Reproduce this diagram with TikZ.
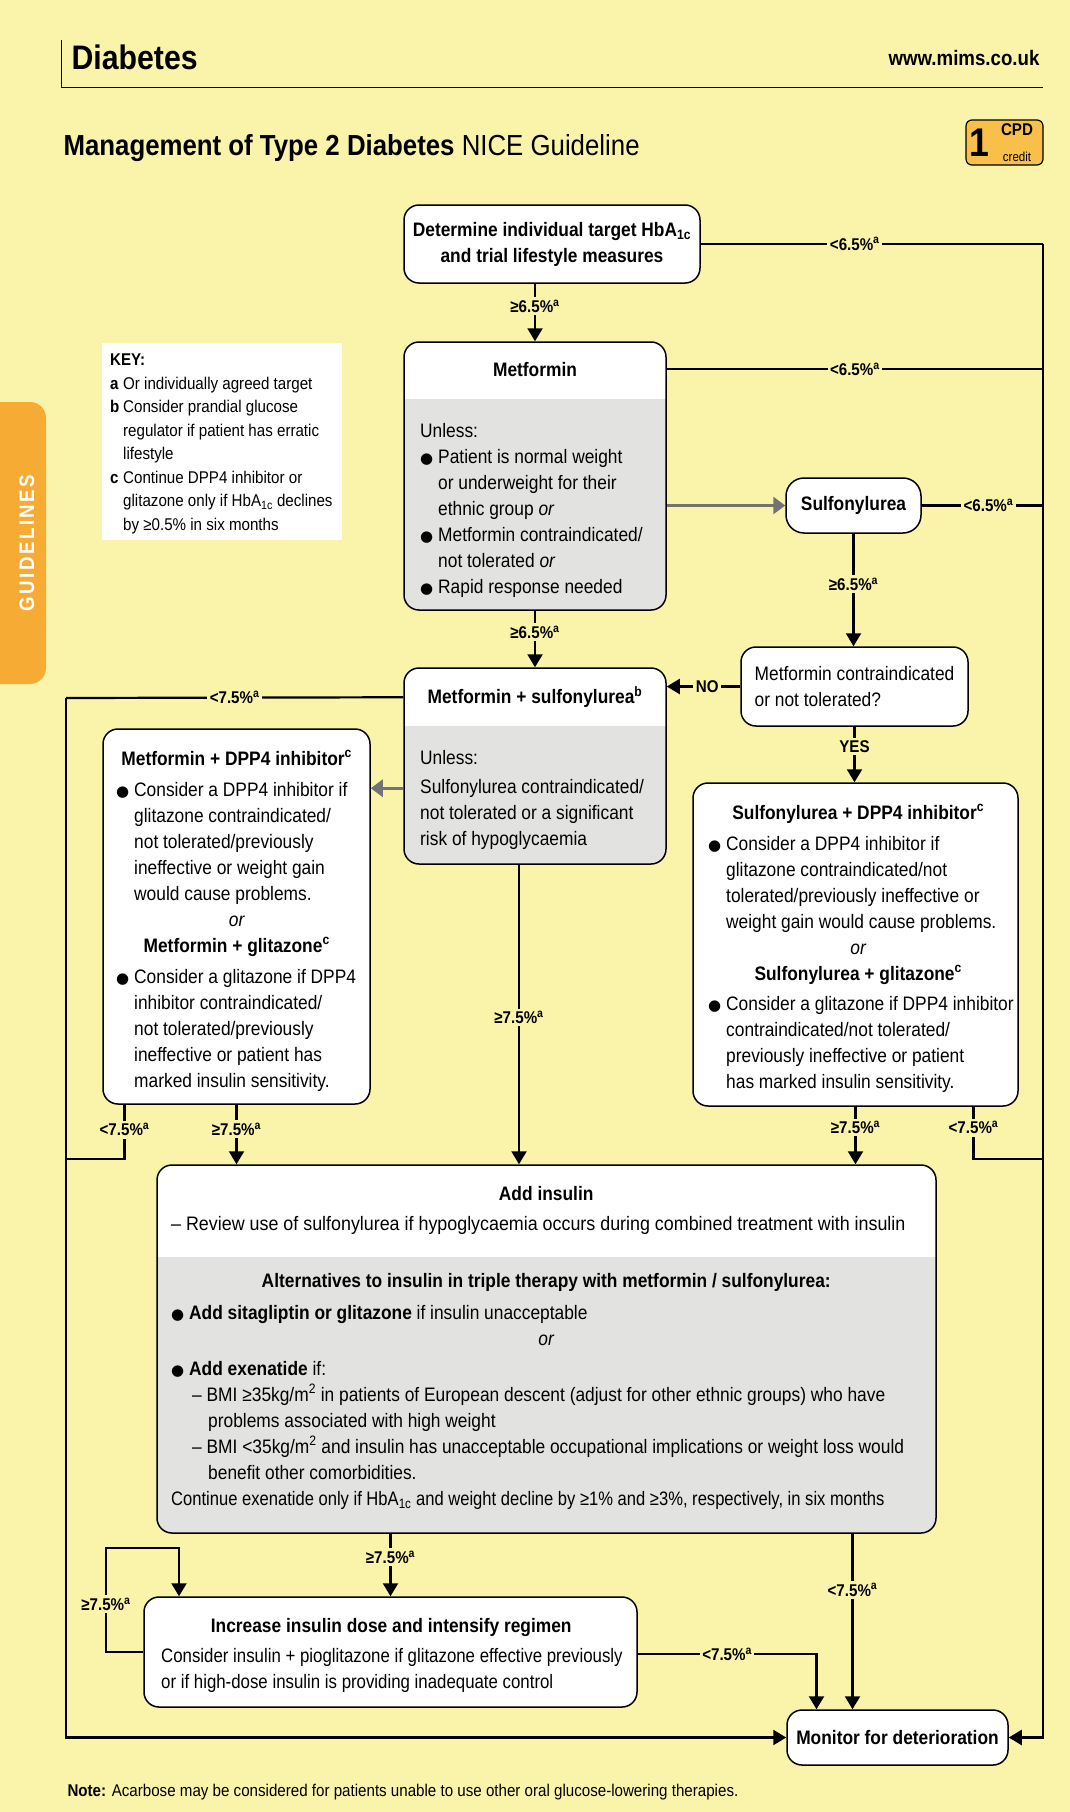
\documentclass[tikz,border=0pt]{standalone}
\usepackage{graphicx}
\usepackage{fontspec}
\setmainfont{Liberation Sans}[FakeStretch=0.89]
\newfontfamily\symfont{DejaVu Sans}
\usetikzlibrary{arrows.meta}
\definecolor{paper}{RGB}{249,244,170}
\definecolor{boxgray}{RGB}{226,226,224}
\definecolor{tab}{RGB}{246,172,52}
\definecolor{badge}{RGB}{248,192,72}
\definecolor{softgray}{RGB}{115,115,115}

\newcommand\bodyfont{\fontsize{19.5}{26}\selectfont}
\newcommand\lblfont{\fontsize{17}{20}\selectfont\bfseries}
\newcommand\keyfont{\fontsize{17}{23.5}\selectfont}
\newcommand\blt{\makebox[18pt][l]{{\symfont\fontsize{15}{15}\selectfont ●}}}
\newcommand\ind{\hspace*{18pt}}
\newcommand\ctr[2]{\makebox[#1][c]{#2}}
\newcommand\squeeze[2]{\scalebox{#1}[1]{#2}}
\newcommand\supa{\textsuperscript{a}}

\begin{document}
\begin{tikzpicture}[x=1pt,y=-1pt,
    box/.style={draw=black, line width=1.5pt, rounded corners=15pt, fill=white, inner sep=0pt},
    split/.style={path picture={\fill[boxgray, sharp corners] ([yshift=-#1]path picture bounding box.north west) rectangle (path picture bounding box.south east);}},
    txt/.style={anchor=north west, align=left, inner sep=0pt, font=\bodyfont},
    wire/.style={line width=2.2pt},
    flow/.style={wire, -{Triangle[width=15pt,length=13pt]}},
    soft/.style={line width=3pt, draw=softgray, -{Triangle[width=17pt,length=12pt]}},
    lbl/.style={fill=paper, inner sep=2.5pt, font=\lblfont}]
\useasboundingbox[fill=paper] (0,0) rectangle (1070,1812);

% header
\draw[line width=1pt] (61,40) -- (61,87) -- (1043,87);
\node[anchor=west, font=\fontsize{34}{36}\selectfont\bfseries] (hdr) at (68,57) {Diabetes};
\node[anchor=east, font=\fontsize{21}{24}\selectfont\bfseries] (web) at (1043,58) {www.mims.co.uk};
\node[anchor=west, font=\fontsize{29}{32}\selectfont] (title) at (60,148) {\textbf{Management of Type 2 Diabetes} NICE Guideline};
\node[draw, line width=1.2pt, fill=badge, rounded corners=6pt, minimum width=77pt, minimum height=45pt] (cpd) at (1004.5,142.5) {};
\node[inner sep=0pt, font=\fontsize{40}{40}\selectfont\bfseries] (cpd1) at (979,143) {1};
\node[inner sep=0pt, font=\fontsize{17}{17}\selectfont\bfseries] (cpd2) at (1017,130) {CPD};
\node[inner sep=0pt, font=\fontsize{13}{13}\selectfont] (cpd3) at (1017,157) {credit};

% side tab
\fill[tab, rounded corners=16pt] (-20,402) rectangle (46,684);
\node[rotate=90, text=white, font=\fontsize{21}{21}\selectfont\bfseries\addfontfeature{LetterSpace=12}] (tabtxt) at (27,543) {GUIDELINES};

% key
\node[fill=white, minimum width=240pt, minimum height=197pt, inner sep=0pt] (keybox) at (222,441.5) {};
\node[anchor=north west, align=left, inner sep=0pt, font=\keyfont] (keytxt) at (110,354) {\textbf{KEY:}\\
  \makebox[13pt][l]{\textbf{a}}Or individually agreed target\\
  \makebox[13pt][l]{\textbf{b}}Consider prandial glucose\\
  \hspace*{13pt}regulator if patient has erratic\\
  \hspace*{13pt}lifestyle\\
  \makebox[13pt][l]{\textbf{c}}Continue DPP4 inhibitor or\\
  \hspace*{13pt}glitazone only if HbA\textsubscript{1c} declines\\
  \hspace*{13pt}by ≥0.5\% in six months};

% boxes
\node[box, minimum width=296pt, minimum height=78pt, align=center, font=\bodyfont\bfseries] (det) at (552,244) {Determine individual target HbA\textsubscript{1c}\\and trial lifestyle measures};

\node[box, split=57pt, minimum width=262pt, minimum height=268pt] (met) at (535,476) {};
\node[font=\bodyfont\bfseries] (met-t) at (535,370) {Metformin};
\node[txt] (met-b) at (420,423) {Unless:\\
  \blt Patient is normal weight\\
  \ind or underweight for their\\
  \ind ethnic group \emph{or}\\
  \blt Metformin contraindicated/\\
  \ind not tolerated \emph{or}\\
  \blt Rapid response needed};

\node[box, rounded corners=18pt, minimum width=135pt, minimum height=55pt, font=\bodyfont\bfseries] (sulf) at (853.5,505.5) {Sulfonylurea};
\node[box, minimum width=227pt, minimum height=79pt, align=left, font=\bodyfont] (contra) at (854.5,686.5) {Metformin contraindicated\\or not tolerated?};

\node[box, split=58pt, minimum width=262pt, minimum height=196pt] (ms) at (535,766) {};
\node[font=\bodyfont\bfseries] (ms-t) at (535,697) {Metformin + sulfonylurea\textsuperscript{b}};
\node[txt] (ms-b) at (420,750) {Unless:\\[3pt]
  Sulfonylurea contraindicated/\\
  not tolerated or a significant\\
  risk of hypoglycaemia};

\node[box, minimum width=267pt, minimum height=375pt] (mdpp) at (236.5,916.5) {};
\node[txt] (mdpp-t) at (116,750) {\ctr{241pt}{\bfseries Metformin + DPP4 inhibitor\textsuperscript{c}}\\[5pt]
  \blt Consider a DPP4 inhibitor if\\
  \ind glitazone contraindicated/\\
  \ind not tolerated/previously\\
  \ind ineffective or weight gain\\
  \ind would cause problems.\\
  \ctr{241pt}{\itshape or}\\
  \ctr{241pt}{\bfseries Metformin + glitazone\textsuperscript{c}}\\[5pt]
  \blt Consider a glitazone if DPP4\\
  \ind inhibitor contraindicated/\\
  \ind not tolerated/previously\\
  \ind ineffective or patient has\\
  \ind marked insulin sensitivity.};

\node[box, minimum width=325pt, minimum height=323pt] (sdpp) at (855.5,944.5) {};
\node[txt] (sdpp-t) at (708,804) {\ctr{300pt}{\bfseries Sulfonylurea + DPP4 inhibitor\textsuperscript{c}}\\[5pt]
  \blt Consider a DPP4 inhibitor if\\
  \ind glitazone contraindicated/not\\
  \ind tolerated/previously ineffective or\\
  \ind weight gain would cause problems.\\
  \ctr{300pt}{\itshape or}\\
  \ctr{300pt}{\bfseries Sulfonylurea + glitazone\textsuperscript{c}}\\[4pt]
  \blt Consider a glitazone if DPP4 inhibitor\\
  \ind contraindicated/not tolerated/\\
  \ind previously ineffective or patient\\
  \ind has marked insulin sensitivity.};

\node[box, split=92pt, minimum width=779pt, minimum height=368pt] (ins) at (546.5,1349) {};
\node[txt] (ins-t) at (171,1186) {\ctr{750pt}{\bfseries Add insulin}\\[4pt]
  \squeeze{1.03}{– Review use of sulfonylurea if hypoglycaemia occurs during combined treatment with insulin}\\[31pt]
  \ctr{750pt}{\bfseries Alternatives to insulin in triple therapy with metformin / sulfonylurea:}\\[6pt]
  \blt\textbf{Add sitagliptin or glitazone} if insulin unacceptable\\
  \ctr{750pt}{\itshape or}\\[4pt]
  \blt\textbf{Add exenatide} if:\\
  \hspace*{21pt}– BMI ≥35kg/m\textsuperscript{2} in patients of European descent (adjust for other ethnic groups) who have\\
  \hspace*{37pt}problems associated with high weight\\
  \hspace*{21pt}– BMI <35kg/m\textsuperscript{2} and insulin has unacceptable occupational implications or weight loss would\\
  \hspace*{37pt}benefit other comorbidities.\\
  \squeeze{0.955}{Continue exenatide only if HbA\textsubscript{1c} and weight decline by ≥1\% and ≥3\%, respectively, in six months}};

\node[box, minimum width=493pt, minimum height=110pt] (inc) at (390.5,1652) {};
\node[txt] (inc-t) at (161,1618) {\ctr{460pt}{\bfseries Increase insulin dose and intensify regimen}\\[4pt]
  \squeeze{0.97}{Consider insulin + pioglitazone if glitazone effective previously}\\
  \squeeze{0.97}{or if high-dose insulin is providing inadequate control}};

\node[box, minimum width=221pt, minimum height=55pt, font=\bodyfont\bfseries] (mon) at (897.5,1737.5) {Monitor for deterioration};

% junction points
\coordinate (rt) at (1043,244);
\coordinate (lt) at (66,698);
\coordinate (lj) at (66,1159);
\coordinate (rj) at (1043,1159);
\coordinate (metr) at ([yshift=-28pt]met.north east);
\coordinate (msl) at ([yshift=-30pt]ms.north west);
\coordinate (msg) at ([yshift=-121pt]ms.north west);
\coordinate (msb) at ([xshift=-16pt]ms.south);
\coordinate (mdl) at ([xshift=-112pt]mdpp.south);
\coordinate (sdr) at ([xshift=118pt]sdpp.south);
\coordinate (insm) at ([xshift=306pt]ins.south);
\coordinate (lpa) at (106,1548);
\coordinate (lpb) at (179,1548);
\coordinate (incr) at ([yshift=-58pt]inc.north east);

% right-hand trunk
\draw[wire] (det.east) -- node[lbl, pos=0.45] {<6.5\%\supa} (rt);
\draw[flow] (rt) |- (mon.east);
\draw[wire] (metr) -- node[lbl, pos=0.5] {<6.5\%\supa} (metr -| rt);
\draw[wire] (sulf.east) -- node[lbl, pos=0.55] {<6.5\%\supa} (sulf.east -| rt);
\draw[wire] (sdr) |- node[lbl, pos=0.2] {<7.5\%\supa} (rj);

% left-hand trunk
\draw[wire] (msl) -- node[lbl, pos=0.5] {<7.5\%\supa} (lt);
\draw[flow] (lt) |- (mon.west);
\draw[wire] (mdl) |- node[lbl, pos=0.23] {<7.5\%\supa} (lj);

% main flow
\draw[flow] (det.south -| met.north) -- node[lbl, pos=0.39] {≥6.5\%\supa} (met.north);
\draw[soft] (met.east |- sulf.west) -- (sulf.west);
\draw[flow] (sulf.south) -- node[lbl, pos=0.45] {≥6.5\%\supa} (sulf.south |- contra.north);
\draw[flow] (met.south) -- node[lbl, pos=0.38] {≥6.5\%\supa} (ms.north);
\draw[flow] (contra.west) -- node[lbl, pos=0.45] {NO} (contra.west -| ms.east);
\draw[flow] (contra.south) -- node[lbl, pos=0.35] {YES} (contra.south |- sdpp.north);
\draw[soft] (msg) -- (msg -| mdpp.east);
\draw[flow] (msb) -- node[lbl, pos=0.51] {≥7.5\%\supa} (msb |- ins.north);
\draw[flow] (mdpp.south) -- node[lbl, pos=0.41] {≥7.5\%\supa} (mdpp.south |- ins.north);
\draw[flow] (sdpp.south) -- node[lbl, pos=0.36] {≥7.5\%\supa} (sdpp.south |- ins.north);
\draw[flow] (inc.north |- ins.south) -- node[lbl, pos=0.375] {≥7.5\%\supa} (inc.north);
\draw[flow] (insm) -- node[lbl, pos=0.32] {<7.5\%\supa} (insm |- mon.north);
\draw[flow] (inc.west) -| node[lbl, pos=0.73] {≥7.5\%\supa} (lpa) -- (lpb) -- (lpb |- inc.north);
\draw[flow] (incr) -| node[lbl, pos=0.25] {<7.5\%\supa} ([xshift=-81pt]mon.north);

% footnote
\node[anchor=west, font=\fontsize{17}{19}\selectfont] (note) at (64,1792) {\textbf{Note:} Acarbose may be considered for patients unable to use other oral glucose-lowering therapies.};
\end{tikzpicture}
\end{document}
